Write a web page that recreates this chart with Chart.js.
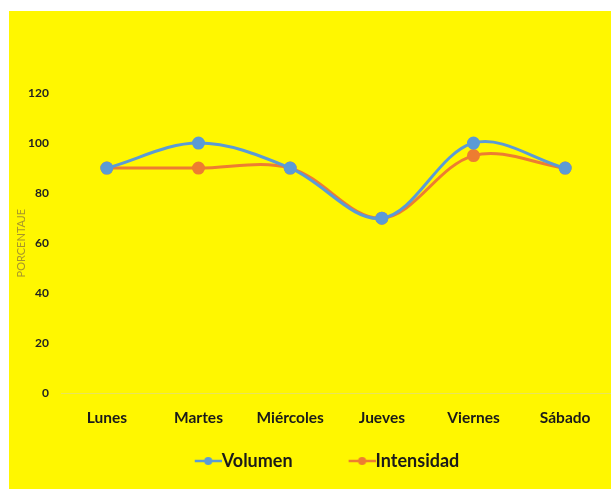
<!DOCTYPE html>
<html>
<head>
<meta charset="utf-8">
<script src="https://cdn.jsdelivr.net/npm/chart.js@4"></script>
<style>
  html, body { margin: 0; padding: 0; background: #fff; }
  #box { position: absolute; left: 9px; top: 11px; width: 602px; height: 478px; background: #fff700; }
</style>
</head>
<body>
<div id="box"><canvas id="chart"></canvas></div>
<script>
const dias = ['Lunes', 'Martes', 'Miércoles', 'Jueves', 'Viernes', 'Sábado'];
const volumen = [90, 100, 90, 70, 100, 90];
const intensidad = [90, 90, 90, 70, 95, 90];
const yTicks = [0, 20, 40, 60, 80, 100, 120];

const azul = '#5b9bd5';
const naranja = '#ed7d31';

// legend marker: short line with a dot, pushed to the right so it touches the text
function marker(color) {
    const c = document.createElement('canvas');
    c.width = 38; c.height = 10;
    const g = c.getContext('2d');
    g.strokeStyle = color; g.lineWidth = 2.5;
    g.beginPath(); g.moveTo(11, 5); g.lineTo(38, 5); g.stroke();
    g.fillStyle = color;
    g.beginPath(); g.arc(24.5, 5, 4, 0, Math.PI * 2); g.fill();
    return c;
}
const markers = [marker(azul), marker(naranja)];

const legendShift = {
    id: 'legendShift',
    afterLayout(chart) {
        chart.legend.left += 16;
        chart.legend.right += 16;
    }
};

const ctx = document.getElementById('chart').getContext('2d');
new Chart(ctx, {
    type: 'line',
    data: {
        labels: dias,
        datasets: [
            { label: 'Volumen\u2003\u2003\u2002', data: volumen, borderColor: azul, backgroundColor: azul,
              borderWidth: 3, pointRadius: 5, pointHoverRadius: 5, tension: 0.35 },
            { label: 'Intensidad', data: intensidad, borderColor: naranja, backgroundColor: naranja,
              borderWidth: 3, pointRadius: 5, pointHoverRadius: 5, tension: 0.35 }
        ]
    },
    plugins: [legendShift],
    options: {
        responsive: true,
        maintainAspectRatio: false,
        animation: false,
        layout: { autoPadding: false, padding: { top: 82, left: 0, right: 0, bottom: 9 } },
        plugins: {
            tooltip: { enabled: false },
            legend: {
                position: 'bottom',
                labels: {
                    usePointStyle: true,
                    pointStyleWidth: 20,
                    padding: 18,
                    color: '#1a1a1a',
                    font: { family: 'Lato', size: 18, weight: 'bold' },
                    generateLabels: function (chart) {
                        const items = Chart.defaults.plugins.legend.labels.generateLabels(chart);
                        items.forEach((it, i) => { it.pointStyle = markers[i]; });
                        return items;
                    }
                }
            }
        },
        scales: {
            x: {
                offset: true,
                grid: { display: false },
                border: { display: true, color: 'rgba(205,205,205,0.45)' },
                ticks: { color: '#1a1a1a', padding: 7, font: { family: 'Lato', size: 15.5, weight: 'bold' } }
            },
            y: {
                min: 0, max: 120,
                afterBuildTicks: function (axis) { axis.ticks = yTicks.map(v => ({ value: v })); },
                afterFit: function (axis) { axis.width = 52; },
                grid: { display: false },
                border: { display: false },
                title: { display: true, text: 'PORCENTAJE', color: '#a8962a',
                         font: { family: 'Lato', size: 11 }, padding: { top: 6, bottom: 0 } },
                ticks: { color: '#222', padding: 4, font: { family: 'Lato', size: 12, weight: 'bold' } }
            }
        }
    }
});
</script>
</body>
</html>
